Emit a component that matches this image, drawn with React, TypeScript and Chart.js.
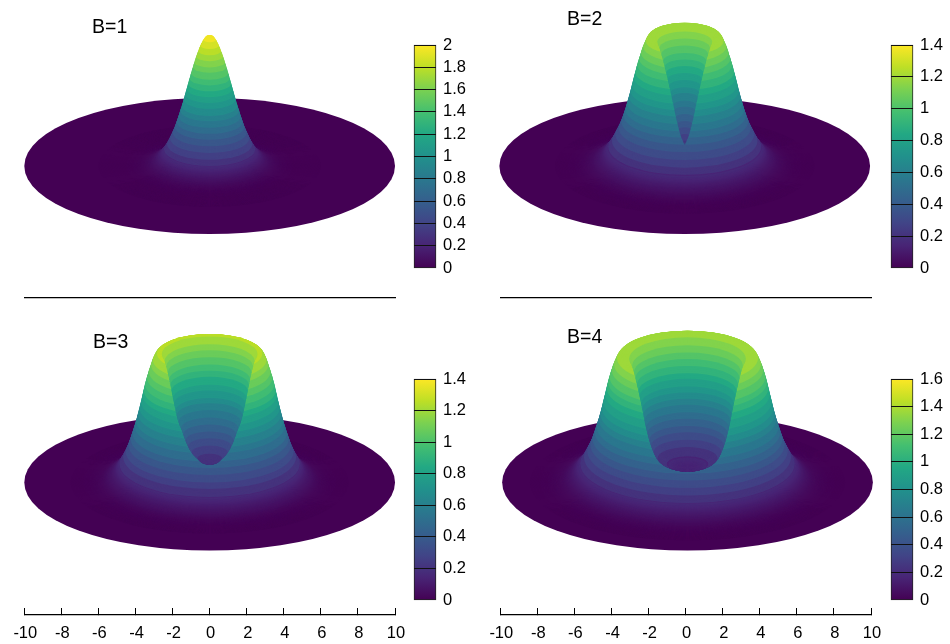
import React, { useEffect, useRef } from "react";
import { Chart, registerables } from "chart.js";

Chart.register(...registerables);

const FONT = '"Liberation Sans", Arial, sans-serif';

const radiusB1 = [0, 0.25, 0.5, 0.75, 1, 1.25, 1.5, 1.75, 2, 2.25, 2.5, 2.75, 3, 3.25, 3.5, 3.75, 4, 4.25, 4.5, 4.75, 5, 5.5, 6];
const heightB1 = [2, 1.96, 1.84, 1.65, 1.42, 1.17, 0.92, 0.7, 0.51, 0.36, 0.24, 0.16, 0.1, 0.063, 0.038, 0.022, 0.012, 0.007, 0.003, 0.002, 0.001, 0, 0];

const radiusB2 = [0, 0.25, 0.5, 0.75, 1, 1.25, 1.5, 1.75, 2, 2.25, 2.5, 2.75, 3, 3.25, 3.5, 3.75, 4, 4.25, 4.5, 4.75, 5, 5.25, 5.5, 5.75, 6, 6.5, 7];
const heightB2 = [0.19, 0.3, 0.47, 0.68, 0.87, 1.04, 1.17, 1.22, 1.2, 1.11, 0.98, 0.82, 0.65, 0.5, 0.38, 0.29, 0.21, 0.15, 0.1, 0.07, 0.045, 0.03, 0.018, 0.01, 0.005, 0.001, 0];

const radiusB3 = [0, 0.25, 0.5, 0.75, 1, 1.25, 1.5, 1.75, 2, 2.25, 2.5, 2.75, 3, 3.25, 3.5, 3.75, 4, 4.25, 4.5, 4.75, 5, 5.25, 5.5, 5.75, 6, 6.5, 7, 7.5];
const heightB3 = [0.185, 0.19, 0.205, 0.25, 0.3, 0.38, 0.5, 0.62, 0.82, 1.04, 1.2, 1.235, 1.19, 1.07, 0.92, 0.73, 0.56, 0.42, 0.3, 0.21, 0.14, 0.09, 0.06, 0.035, 0.02, 0.006, 0.001, 0];

const radiusB4 = [0, 0.5, 1, 1.5, 1.75, 2, 2.25, 2.5, 2.75, 3, 3.25, 3.5, 3.75, 4, 4.25, 4.5, 4.75, 5, 5.25, 5.5, 5.75, 6, 6.25, 6.5, 6.75, 7, 7.5, 8, 8.5];
const heightB4 = [0.16, 0.165, 0.19, 0.24, 0.3, 0.42, 0.6, 0.85, 1.08, 1.27, 1.36, 1.37, 1.35, 1.25, 1.1, 0.9, 0.7, 0.54, 0.4, 0.3, 0.21, 0.15, 0.1, 0.065, 0.04, 0.025, 0.008, 0.002, 0];

const axisTicks = [-10, -8, -6, -4, -2, 0, 2, 4, 6, 8, 10];
const colorTicksB1 = [0, 0.2, 0.4, 0.6, 0.8, 1, 1.2, 1.4, 1.6, 1.8, 2];
const colorTicksB2 = [0, 0.2, 0.4, 0.6, 0.8, 1, 1.2, 1.4];
const colorTicksB3 = [0, 0.2, 0.4, 0.6, 0.8, 1, 1.2, 1.4];
const colorTicksB4 = [0, 0.2, 0.4, 0.6, 0.8, 1, 1.2, 1.4, 1.6];
const discRadius = 10;

const viridis = ["#440154", "#482475", "#414487", "#355f8d", "#2a788e", "#21918c", "#22a884", "#44bf70", "#7ad151", "#bddf26", "#fde725"];

function hexRgb(h: string) {
  return [parseInt(h.slice(1, 3), 16), parseInt(h.slice(3, 5), 16), parseInt(h.slice(5, 7), 16)];
}
function viridisAt(f: number) {
  const t = Math.max(0, Math.min(1, f)) * (viridis.length - 1);
  const i = Math.min(viridis.length - 2, Math.floor(t));
  const a = hexRgb(viridis[i]);
  const b = hexRgb(viridis[i + 1]);
  const u = t - i;
  return `rgb(${a.map((v, k) => Math.round(v + (b[k] - v) * u)).join(",")})`;
}

// Smooth evaluation between the read knots, used only to draw a fine mesh.
function profileAt(pts: { x: number; y: number }[], r: number) {
  const n = pts.length;
  if (r >= pts[n - 1].x) return pts[n - 1].y;
  let i = 0;
  while (i < n - 2 && pts[i + 1].x < r) i++;
  const p0 = pts[i], p1 = pts[i + 1];
  const h = p1.x - p0.x;
  const slope = (a: number) => {
    if (a <= 0) return (pts[1].y - pts[0].y) / (pts[1].x - pts[0].x);
    if (a >= n - 1) return 0;
    return (pts[a + 1].y - pts[a - 1].y) / (pts[a + 1].x - pts[a - 1].x);
  };
  const m0 = slope(i), m1 = slope(i + 1);
  const t = (r - p0.x) / h;
  const t2 = t * t, t3 = t2 * t;
  const v = (2 * t3 - 3 * t2 + 1) * p0.y + (t3 - 2 * t2 + t) * h * m0 + (-2 * t3 + 3 * t2) * p1.y + (t3 - t2) * h * m1;
  return Math.max(0, v);
}

const surfacePlugin = {
  id: "surface",
  afterDatasetsDraw(chart: any) {
    const o = chart.options.plugins.surface;
    const { ctx, scales } = chart;
    const pts = chart.data.datasets[0].data;
    const X = (v: number) => scales.x.getPixelForValue(v);
    const Y = (v: number) => scales.y.getPixelForValue(v);
    const color = (z: number) => {
      const f = z / o.cbMax;
      if (f < o.smoothBelow) return viridisAt(f);
      const lv = Math.min(o.levels - 1, Math.floor(f * o.levels));
      return viridisAt((lv + 0.5) / o.levels);
    };
    // Each level of the surface is an ellipse; painting from the rim inwards
    // leaves the innermost ring on top, as in the reference.
    const disc = (r: number, z: number, c: string) => {
      const rx = Math.abs(X(o.cx + r) - X(o.cx));
      const cy = Y(z * o.zScale);
      const ry = Math.abs(Y(z * o.zScale + r * o.tilt) - cy);
      ctx.beginPath();
      ctx.ellipse(X(o.cx), cy, rx, ry, 0, 0, Math.PI * 2);
      ctx.fillStyle = c;
      ctx.fill();
    };
    ctx.save();
    disc(discRadius, 0, color(0));
    const rEnd = pts[pts.length - 1].x;
    const dr = 0.02;
    for (let r = rEnd; r > dr / 2; r -= dr) {
      const z = profileAt(pts, r);
      disc(r, z, color(z));
    }
    ctx.fillStyle = "#000";
    ctx.font = `19.5px ${FONT}`;
    ctx.textAlign = "left";
    ctx.textBaseline = "alphabetic";
    ctx.fillText(o.title, o.titleX, o.titleY);
    ctx.restore();
  },
};

type Panel = {
  title: string;
  radius: number[];
  height: number[];
  colorTicks: number[];
  left: number;
  top: number;
  canvasH: number;
  axisY: number;
  centerY: number;
  cx: number;
  zPx: number;
  showTicks: boolean;
  titleX: number;
  titleY: number;
  barLeft: number;
  barTop: number;
  barBottom: number;
};

const panels: Panel[] = [
  { title: "B=1", radius: radiusB1, height: heightB1, colorTicks: colorTicksB1, left: 0, top: 0, canvasH: 300, axisY: 298, centerY: 166, cx: 0, zPx: 65.5, showTicks: false, titleX: 92, titleY: 33, barLeft: 414, barTop: 45, barBottom: 268 },
  { title: "B=2", radius: radiusB2, height: heightB2, colorTicks: colorTicksB2, left: 476, top: 0, canvasH: 300, axisY: 298, centerY: 166, cx: -0.05, zPx: 107, showTicks: false, titleX: 91, titleY: 25, barLeft: 891, barTop: 45, barBottom: 268 },
  { title: "B=3", radius: radiusB3, height: heightB3, colorTicks: colorTicksB3, left: 0, top: 322, canvasH: 322, axisY: 615, centerY: 482.5, cx: 0, zPx: 105, showTicks: true, titleX: 93, titleY: 26, barLeft: 414, barTop: 379, barBottom: 600 },
  { title: "B=4", radius: radiusB4, height: heightB4, colorTicks: colorTicksB4, left: 476, top: 322, canvasH: 322, axisY: 615, centerY: 482.5, cx: 0.1, zPx: 93, showTicks: true, titleX: 91, titleY: 21, barLeft: 891, barTop: 379, barBottom: 600 },
];

const SURF_W = 410;
const PAD_L = 24.3;
const PX_PER_UNIT = 370.7 / 20;

function makeSurface(canvas: HTMLCanvasElement, p: Panel) {
  return new Chart(canvas, {
    type: "scatter",
    plugins: [surfacePlugin],
    data: {
      datasets: [
        {
          label: p.title,
          data: p.radius.map((r, i) => ({ x: r, y: p.height[i] })),
          pointRadius: 0,
          showLine: false,
        },
      ],
    },
    options: {
      animation: false,
      responsive: false,
      layout: { padding: { left: PAD_L, right: SURF_W - PAD_L - 370.7, top: 0, bottom: 0 } },
      plugins: {
        legend: { display: false },
        title: { display: false },
        tooltip: { enabled: false },
        surface: {
          title: p.title,
          titleX: p.titleX,
          titleY: p.titleY,
          cx: p.cx,
          tilt: 68 / (10 * PX_PER_UNIT),
          zScale: p.zPx / PX_PER_UNIT,
          cbMax: p.colorTicks[p.colorTicks.length - 1],
          levels: 24,
          smoothBelow: 0.12,
        },
      } as any,
      scales: {
        x: {
          type: "linear",
          min: -10,
          max: 10,
          afterBuildTicks(s: any) {
            s.ticks = axisTicks.map((value) => ({ value }));
          },
          afterFit(s: any) {
            s.height = p.canvasH + p.top - p.axisY;
            s.paddingLeft = 0;
            s.paddingRight = 0;
          },
          border: { color: "#000", width: 1.2 },
          grid: { drawOnChartArea: false, drawTicks: p.showTicks, tickLength: -7, color: "#000", lineWidth: 1 },
          ticks: {
            display: p.showTicks,
            autoSkip: false,
            maxRotation: 0,
            padding: 16,
            labelOffset: 1,
            color: "#000",
            font: { family: FONT, size: 16.5 },
            callback: (v: any) => String(v),
          },
        },
        y: {
          type: "linear",
          display: false,
          min: -(p.axisY - p.centerY) / PX_PER_UNIT,
          max: (p.centerY - p.top) / PX_PER_UNIT,
        },
      },
    } as any,
  });
}

function makeBar(canvas: HTMLCanvasElement, p: Panel) {
  const maxV = p.colorTicks[p.colorTicks.length - 1];
  return new Chart(canvas, {
    type: "bar",
    data: {
      labels: [""],
      datasets: [
        {
          data: [[0, maxV]],
          barPercentage: 1,
          categoryPercentage: 1,
          borderWidth: 1,
          borderColor: "#222",
          borderSkipped: false,
          clip: false,
          backgroundColor(ctx: any) {
            const area = ctx.chart.chartArea;
            if (!area) return viridis[0];
            const g = ctx.chart.ctx.createLinearGradient(0, area.bottom, 0, area.top);
            viridis.forEach((c, i) => g.addColorStop(i / (viridis.length - 1), c));
            return g;
          },
        },
      ],
    } as any,
    options: {
      animation: false,
      responsive: false,
      layout: { padding: { left: 4, right: 0, top: 10, bottom: 10 } },
      plugins: { legend: { display: false }, tooltip: { enabled: false } },
      scales: {
        x: { display: false },
        y: {
          position: "right",
          min: 0,
          max: maxV,
          afterBuildTicks(s: any) {
            s.ticks = p.colorTicks.map((value) => ({ value }));
          },
          afterFit(s: any) {
            s.width = 33;
            s.paddingTop = 0;
            s.paddingBottom = 0;
          },
          border: { display: false },
          grid: {
            z: 1,
            drawTicks: false,
            color: "#111",
            lineWidth: (c: any) => (c.tick && c.tick.value === 0 ? 0 : 1),
          },
          ticks: {
            autoSkip: false,
            padding: 7,
            color: "#000",
            font: { family: FONT, size: 16.5 },
            callback: (v: any) => String(Math.round(v * 10) / 10),
          },
        },
      },
    } as any,
  });
}

function PanelView({ p }: { p: Panel }) {
  const surf = useRef<HTMLCanvasElement>(null);
  const bar = useRef<HTMLCanvasElement>(null);
  useEffect(() => {
    const a = makeSurface(surf.current!, p);
    const b = makeBar(bar.current!, p);
    return () => {
      a.destroy();
      b.destroy();
    };
  }, [p]);
  const barH = p.barBottom - p.barTop + 20;
  return (
    <>
      <canvas ref={surf} width={SURF_W} height={p.canvasH} style={{ position: "absolute", left: p.left, top: p.top, width: SURF_W, height: p.canvasH }} />
      <canvas ref={bar} width={59} height={barH} style={{ position: "absolute", left: p.barLeft - 4, top: p.barTop - 10, width: 59, height: barH }} />
    </>
  );
}

export default function App() {
  return (
    <div style={{ position: "absolute", left: 0, top: 0, width: 950, height: 644, overflow: "hidden", background: "#fff" }}>
      {panels.map((p) => (
        <PanelView key={p.title} p={p} />
      ))}
    </div>
  );
}
